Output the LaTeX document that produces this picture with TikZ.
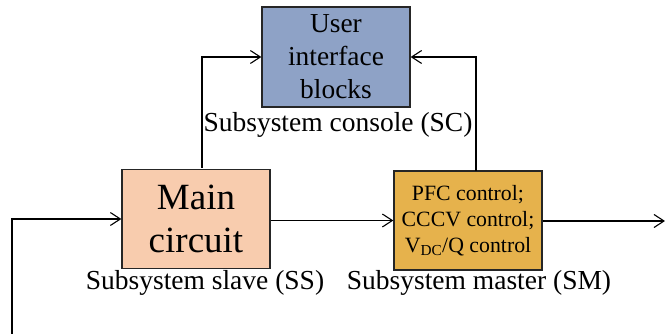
\documentclass[tikz,border=0pt]{standalone}
\usepackage{fontspec}
\setmainfont{Liberation Serif}
\usetikzlibrary{arrows.meta}
\definecolor{uiblue}{HTML}{8EA2C6}
\definecolor{peach}{HTML}{F8CCAE}
\definecolor{gold}{HTML}{E6B24C}
\begin{document}
\begin{tikzpicture}[x=1pt,y=-1pt,
  blockbox/.style={draw=black!85,line width=1.3pt,minimum width=148pt,minimum height=99pt,inner sep=0pt,align=center},
  lbl/.style={font=\fontsize{27.5}{31}\selectfont,inner sep=0pt},
  conn/.style={line width=1.1pt,-{Straight Barb[length=10pt,width=13pt,line width=1.1pt]}}]
\useasboundingbox (0,0) rectangle (665,334);
\node[blockbox,fill=uiblue,minimum height=100pt,font=\fontsize{27.4}{33}\selectfont] (ui) at (336,57) {User\\interface\\blocks};
\node[blockbox,fill=peach,font=\fontsize{37}{43}\selectfont] (mc) at (196,219) {Main\\circuit};
\node[blockbox,fill=gold,font=\fontsize{21.8}{26}\selectfont] (sm) at (468,220.5) {PFC control;\\CCCV control;\\V\textsubscript{DC}/Q control};
\node[lbl] (sclbl) at (338,125) {Subsystem console (SC)};
\node[lbl] (sslbl) at (205,283) {Subsystem slave (SS)};
\node[lbl] (smlbl) at (479,283) {Subsystem master (SM)};
\coordinate (mctop) at (202,168);
\coordinate (smtop) at (476,171);
\coordinate (out) at (665,221);
\coordinate (fb) at (12,334);
\draw[conn] (mctop) |- (ui.west);
\draw[conn] (smtop) |- (ui.east);
\draw[conn] (mc.east |- sm.west) -- (sm.west);
\draw[conn] (sm.east |- out) -- (out);
\draw[conn] (fb) |- (mc.west);
\end{tikzpicture}
\end{document}
